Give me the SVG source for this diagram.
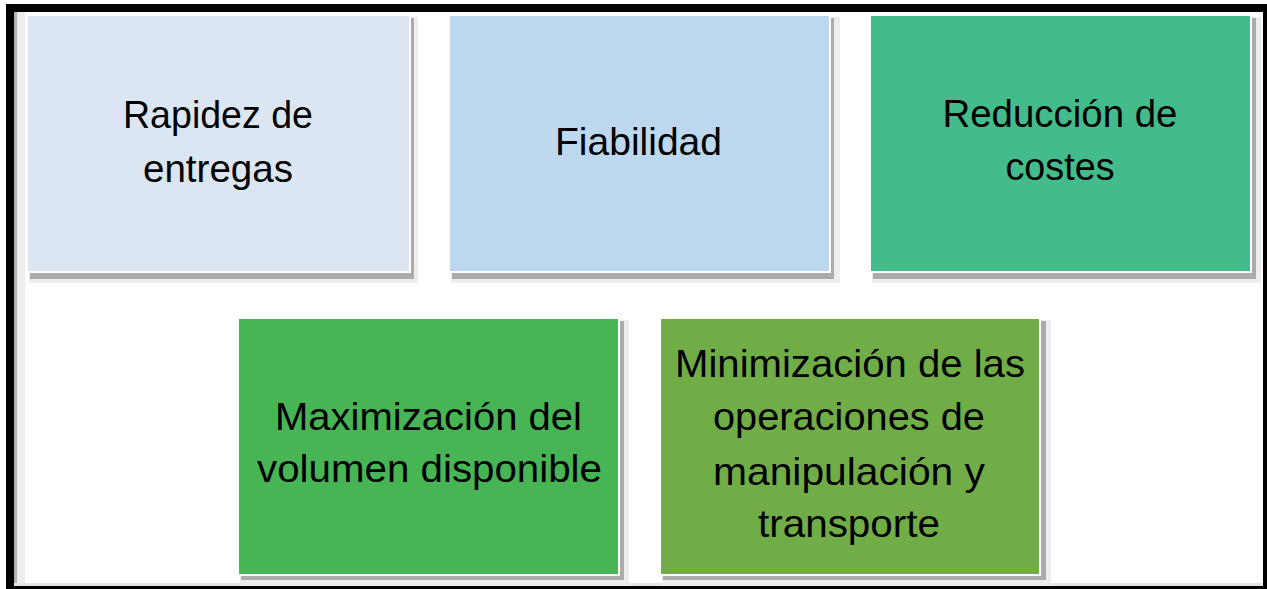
<svg xmlns="http://www.w3.org/2000/svg" width="1267" height="589" viewBox="0 0 1267 589">
<style>
.lbl{font-family:"Liberation Sans",Arial,sans-serif;font-size:39px;fill:#000;text-anchor:middle}
.sh1{fill:#ededed}
.sh2{fill:#ababab}
.box{stroke:#fff;stroke-width:2}
</style>
<rect x="0" y="0" width="1267" height="589" fill="#fff"/>
<rect x="6" y="4" width="1261" height="585" fill="#000"/>
<rect x="14" y="12" width="1249" height="574" fill="#fff"/>
<rect x="14" y="12" width="3" height="574" fill="#b0b0b0"/>
<rect x="17" y="12" width="8" height="574" fill="#ececec"/>
<rect x="14" y="583" width="1249" height="3" fill="#e6e6e6"/>
<g id="n1">
<rect class="sh1" x="29" y="17" width="389" height="266"/>
<rect class="sh2" x="30" y="18" width="384" height="261"/>
<rect class="box" x="27" y="15" width="383" height="257" fill="#DCE6F2"/>
<text class="lbl" x="218" y="128" textLength="190" lengthAdjust="spacingAndGlyphs">Rapidez de</text>
<text class="lbl" x="218" y="182" textLength="150" lengthAdjust="spacingAndGlyphs">entregas</text>
</g>
<g id="n2">
<rect class="sh1" x="451" y="17" width="389" height="266"/>
<rect class="sh2" x="452" y="18" width="382" height="261"/>
<rect class="box" x="449" y="15" width="381" height="257" fill="#BDD7EE"/>
<text class="lbl" x="638.5" y="155" textLength="167" lengthAdjust="spacingAndGlyphs">Fiabilidad</text>
</g>
<g id="n3">
<rect class="sh1" x="872" y="17" width="389" height="266"/>
<rect class="sh2" x="873" y="18" width="383" height="261"/>
<rect class="box" x="870" y="15" width="381" height="257" fill="#44BB8B"/>
<text class="lbl" x="1060" y="127" textLength="235" lengthAdjust="spacingAndGlyphs">Reducción de</text>
<text class="lbl" x="1060" y="180" textLength="109" lengthAdjust="spacingAndGlyphs">costes</text>
</g>
<g id="n4">
<rect class="sh1" x="240" y="320" width="389" height="266"/>
<rect class="sh2" x="241" y="321" width="383" height="259"/>
<rect class="box" x="238" y="318" width="381" height="257" fill="#47B553"/>
<text class="lbl" x="428.5" y="430" textLength="307" lengthAdjust="spacingAndGlyphs">Maximización del</text>
<text class="lbl" x="429.5" y="482" textLength="345" lengthAdjust="spacingAndGlyphs">volumen disponible</text>
</g>
<g id="n5">
<rect class="sh1" x="662" y="320" width="389" height="266"/>
<rect class="sh2" x="663" y="321" width="383" height="259"/>
<rect class="box" x="660" y="318" width="380" height="257" fill="#70AD47"/>
<text class="lbl" x="850" y="377" textLength="350" lengthAdjust="spacingAndGlyphs">Minimización de las</text>
<text class="lbl" x="849" y="430" textLength="272" lengthAdjust="spacingAndGlyphs">operaciones de</text>
<text class="lbl" x="849" y="485" textLength="272" lengthAdjust="spacingAndGlyphs">manipulación y</text>
<text class="lbl" x="849" y="537" textLength="182" lengthAdjust="spacingAndGlyphs">transporte</text>
</g>
<g id="connectors"/>
</svg>
